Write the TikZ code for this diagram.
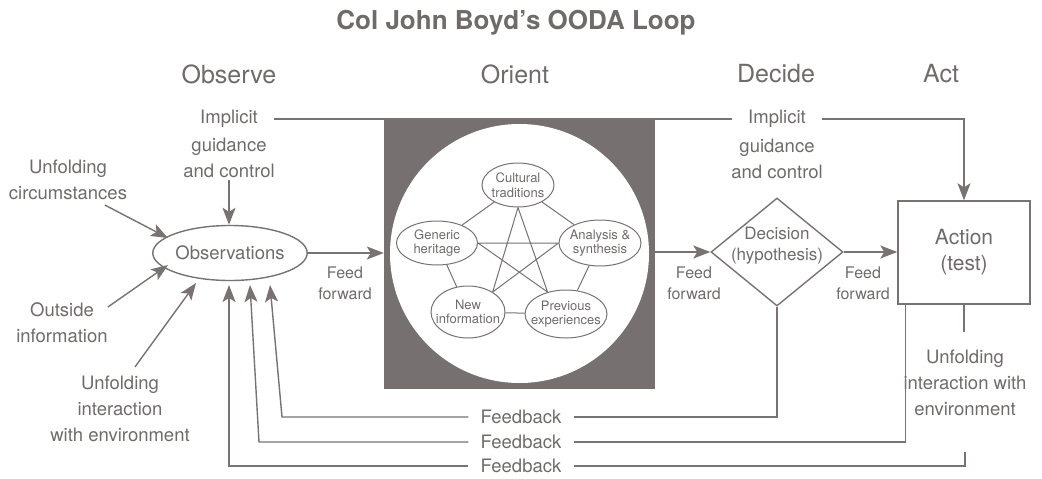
\documentclass[tikz,border=0pt]{standalone}
\usepackage{fontspec}
\setmainfont{TeX Gyre Heros}
\usetikzlibrary{shapes.geometric,arrows.meta}
\definecolor{oodagray}{RGB}{120,114,114}
\definecolor{oodatext}{RGB}{112,107,107}
\definecolor{oodafill}{RGB}{118,112,112}

\begin{document}
\begin{tikzpicture}[x=1pt,y=-1pt,
    wire/.style={draw=oodagray,line width=1.4pt},
    arr/.style={wire,-{Stealth[length=17pt,width=13pt,inset=4pt]}},
    lbl/.style={text=oodatext,align=center,inner sep=0pt,font=\fontsize{18.5}{26}\selectfont},
    head/.style={text=oodatext,inner sep=0pt,font=\fontsize{25}{30}\selectfont},
    ff/.style={text=oodatext,align=center,inner sep=0pt,font=\fontsize{16}{21}\selectfont},
    idea/.style={ellipse,draw=oodagray,line width=1pt,fill=white,inner xsep=-12pt,inner ysep=-10pt,
        text=oodatext,align=center,font=\fontsize{13}{14.5}\selectfont}]
\useasboundingbox (0,0) rectangle (1042,479);
\node[text=oodatext,inner sep=0pt,font=\bfseries\fontsize{26}{30}\selectfont] (title) at (516,23) {Col John Boyd's OODA Loop};
\node[head] (hobs) at (229,74) {Observe};
\node[head] (hori) at (515,74) {Orient};
\node[head] (hdec) at (776,74) {Decide};
\node[head] (hact) at (941,74) {Act};
\node[fill=oodafill,minimum width=271pt,minimum height=270pt,inner sep=0pt] (orient) at (519.5,254) {};
\node[circle,fill=white,minimum size=259pt,inner sep=0pt] (pool) at (519.5,253.5) {};
\node[idea,minimum width=72pt,minimum height=44pt] (cult) at (518,185) {Cultural\\traditions};
\node[idea,minimum width=81pt,minimum height=44pt] (gen) at (437,243) {Generic\\heritage};
\node[idea,minimum width=82pt,minimum height=46pt] (ana) at (600,243) {Analysis \&\\synthesis};
\node[idea,minimum width=74pt,minimum height=52pt] (new) at (468,312) {New\\information};
\node[idea,minimum width=82pt,minimum height=48pt] (prev) at (566,314) {Previous\\experiences};
\node[ellipse,wire,minimum width=130pt,minimum height=55pt,inner sep=0pt,text=oodatext,
    font=\fontsize{18.5}{22}\selectfont] (obs) at (230,253) {Observations};
\node[diamond,wire,minimum width=132pt,minimum height=108pt,inner sep=0pt,
    label={[ff,font=\fontsize{17}{21}\selectfont,yshift=6pt]center:Decision\\(hypothesis)}] (dec) at (777,252) {};
\node[wire,minimum width=132pt,minimum height=103pt,align=center,text=oodatext,
    font=\fontsize{21}{26}\selectfont] (act) at (964,252.5) {Action\\(test)};
\node[ff] (ff1) at (345,283) {Feed\\forward};
\node[ff] (ff2) at (694,283) {Feed\\forward};
\node[ff] (ff3) at (863,283) {Feed\\forward};
\node[lbl,inner xsep=16pt] (impl) at (229,119) {Implicit};
\node[lbl] (guidl) at (229,158) {guidance\\and control};
\node[lbl,inner xsep=16pt] (impr) at (777,119) {Implicit};
\node[lbl] (guidr) at (777,159) {guidance\\and control};
\node[lbl] (circ) at (68,180) {Unfolding\\circumstances};
\node[lbl] (outs) at (62,323) {Outside\\information};
\node[lbl] (intl) at (120,409) {Unfolding\\interaction\\with environment};
\node[lbl] (intr) at (965,383) {Unfolding\\interaction with\\environment};
\node[lbl,inner xsep=12pt] (fb1) at (521,417) {Feedback};
\node[lbl,inner xsep=12pt] (fb2) at (521,442) {Feedback};
\node[lbl,inner xsep=12pt] (fb3) at (521,466) {Feedback};
\coordinate (bend1) at (282,417);
\coordinate (bend2) at (259,442);
\draw[oodagray,line width=1pt] (cult) -- (gen) (cult) -- (ana) (gen) -- (new) (ana) -- (prev) (new) -- (prev);
\draw[oodagray,line width=1pt] (cult.south) -- (new.39) (cult.south) -- (prev.130) (gen.east) -- (ana.west)
    (gen.east) -- (prev.130) (ana.west) -- (new.39);
\draw[arr] (obs.east) -- (obs.east -| orient.west);
\draw[arr] (orient.east |- dec.west) -- (dec.west);
\draw[arr] (dec.east) -- (dec.east -| act.west);
\draw[wire] (impl.east) -- (impr.west);
\draw[arr] (impr.east) -| (act.north);
\draw[arr] ([yshift=-2pt]guidl.south) -- (guidl.south |- obs.north);
\draw[arr] ([shift={(37,5)}]circ.south) -- ([shift={(-62,-15)}]obs.center);
\draw[arr] ([shift={(0,-16)}]outs.east) -- ([shift={(-62,12)}]obs.center);
\draw[arr] ([shift={(15,-9)}]intl.north) -- ([shift={(-34,30)}]obs.center);
\draw[wire] (dec.south) |- (fb1.east);
\draw[arr] (fb1.west) -- (bend1) -- ([shift={(40,32)}]obs.center);
\draw[wire] ([xshift=8pt]act.south west) |- (fb2.east);
\draw[arr] (fb2.west) -- (bend2) -- ([shift={(20,32)}]obs.center);
\draw[wire] (act.south) -- ([yshift=18pt]intr.north -| act.south);
\draw[wire] ([yshift=-36pt]intr.south) |- (fb3.east);
\draw[arr] (fb3.west) -| ([shift={(-1,32)}]obs.center);
\end{tikzpicture}
\end{document}
